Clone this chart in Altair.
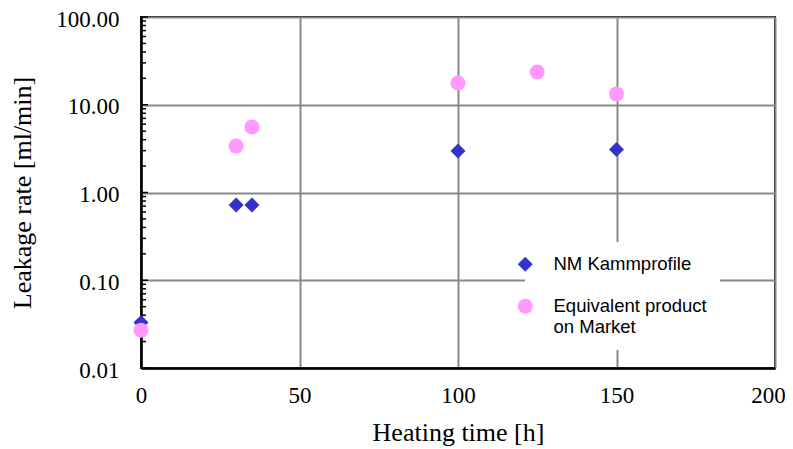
import altair as alt
import pandas as pd

# ---- data ----
series_names = ["NM Kammprofile", "Equivalent product on Market"]
series_colors = ["#3333CC", "#FF99FF"]
series_shapes = ["diamond", "circle"]

hours_nm = [0, 30, 35, 100, 150]
leak_nm = [0.033, 0.72, 0.72, 2.97, 3.10]

hours_eq = [0, 30, 35, 100, 125, 150]
leak_eq = [0.027, 3.39, 5.58, 17.7, 23.6, 13.3]

x_ticks = [0, 50, 100, 150, 200]
y_ticks = [0.01, 0.1, 1, 10, 100]
y_minor = [m * d for d in [0.01, 0.1, 1, 10] for m in range(2, 10)]

rows = []
for h, v in zip(hours_nm, leak_nm):
    rows.append({"hours": h, "leak": v, "series": series_names[0]})
for h, v in zip(hours_eq, leak_eq):
    rows.append({"hours": h, "leak": v, "series": series_names[1]})
df = pd.DataFrame(rows)
df_major = pd.DataFrame({"v": y_ticks})
df_minor = pd.DataFrame({"v": y_minor})

serif = "Liberation Serif"
sans = "Liberation Sans"

x_scale = alt.Scale(domain=[0, 200], nice=False, zero=False)
y_scale = alt.Scale(type="log", domain=[0.01, 100], nice=False)

x_enc = alt.X(
    "hours:Q",
    scale=x_scale,
    axis=alt.Axis(
        values=x_ticks,
        title="Heating time [h]",
        titleFont=serif, titleFontSize=26, titleFontWeight="normal", titleColor="black",
        titlePadding=12,
        labelFont=serif, labelFontSize=23, labelColor="black", labelPadding=16,
        labelFlush=False,
        labelOffset={"condition": {"test": "datum.value == 200", "value": -7}, "value": 0},
        ticks=False,
        grid=True, gridColor="#888888", gridWidth=2,
        domainColor="black", domainWidth=2.5,
    ),
)
y_enc = alt.Y(
    "leak:Q",
    scale=y_scale,
    axis=alt.Axis(
        values=y_ticks,
        format=".2f",
        title="Leakage rate [ml/min]",
        titleFont=serif, titleFontSize=26, titleFontWeight="normal", titleColor="black",
        titlePadding=20,
        labelFont=serif, labelFontSize=23, labelColor="black", labelPadding=22,
        labelFlush=False, labelOffset=2,
        ticks=False,
        grid=True, gridColor="#888888", gridWidth=2,
        domainColor="black", domainWidth=2.5,
    ),
)

points = alt.Chart(df).mark_point(filled=True, size=225, opacity=1).encode(
    x=x_enc,
    y=y_enc,
    color=alt.Color(
        "series:N",
        scale=alt.Scale(domain=series_names, range=series_colors),
        legend=alt.Legend(
            orient="none", legendX=384, legendY=225,
            title=None,
            fillColor="white", padding=13,
            symbolSize=225, symbolOffset=-22, symbolStrokeWidth=0,
            labelFont=sans, labelFontSize=18.5, labelColor="black",
            labelOffset=19, labelLimit=400,
            rowPadding=23,
            labelExpr="datum.label == 'Equivalent product on Market' ? ['Equivalent product\u00a0\u00a0\u00a0\u00a0\u00a0\u00a0\u00a0', 'on Market'] : datum.label",
        ),
    ),
    shape=alt.Shape(
        "series:N",
        scale=alt.Scale(domain=series_names, range=series_shapes),
        legend=None,
    ),
)

major_ticks = alt.Chart(df_major).mark_rule(color="black", strokeWidth=1.5).encode(
    x=alt.value(0), x2=alt.value(7),
    y=alt.Y("v:Q", scale=y_scale),
)
minor_ticks = alt.Chart(df_minor).mark_rule(color="black", strokeWidth=1.5).encode(
    x=alt.value(0), x2=alt.value(5),
    y=alt.Y("v:Q", scale=y_scale),
)

chart = (
    alt.layer(major_ticks, minor_ticks, points)
    .resolve_scale(color="independent", shape="independent")
    .properties(
        width=634, height=351,
        autosize=alt.AutoSizeParams(type="none"),
        padding={"left": 133, "top": 9, "right": 10, "bottom": 80},
        background="white",
    )
    .configure_view(stroke="black", strokeWidth=2)
)

chart.save("out.html", embed_options={"renderer": "svg", "actions": False})
